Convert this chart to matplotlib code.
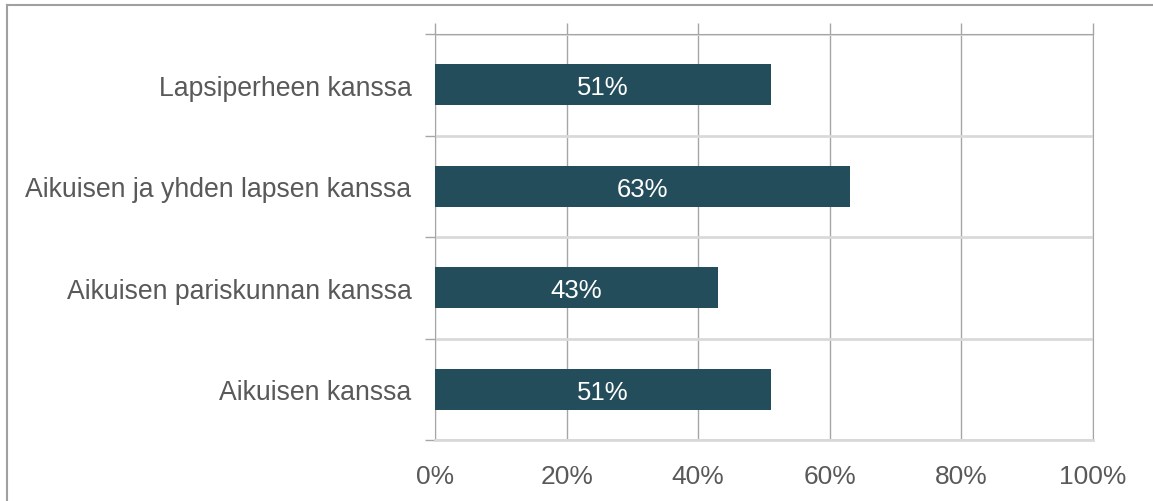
import matplotlib.pyplot as plt
from matplotlib.lines import Line2D
import numpy as np

plt.rcParams['font.family'] = ['Liberation Sans', 'DejaVu Sans']

# data
categories = ['Lapsiperheen kanssa', 'Aikuisen ja yhden lapsen kanssa',
              'Aikuisen pariskunnan kanssa', 'Aikuisen kanssa']
values = [51, 63, 43, 51]
xticks = [0, 20, 40, 60, 80, 100]

bar_col = '#244d5b'
txt_col = '#595959'
grid_col = '#a6a6a6'
sep_col = '#d9d9d9'

fig = plt.figure(figsize=(11.53, 5.02), dpi=100)
ax = fig.add_axes([435/1153, 1-441/502, (1093-435)/1153, (441-35)/502])

y = np.arange(len(categories))
bars = ax.barh(y, values, height=0.4, color=bar_col, zorder=3)
for b, v in zip(bars, values):
    ax.text(v/2, b.get_y() + b.get_height()/2, f'{v}%', ha='center', va='center_baseline',
            color='white', fontsize=18.5, zorder=4)

ax.set_xlim(0, 100)
ax.set_ylim(len(categories) - 0.5, -0.5)
ax.set_xticks(xticks)
ax.set_xticklabels([f'{t}%' for t in xticks])
ax.set_yticks(y)
ax.set_yticklabels(categories)
ax.set_yticks(np.arange(len(categories) + 1) - 0.5, minor=True)

ax.tick_params(axis='x', length=0, pad=9, labelsize=19, labelcolor=txt_col)
ax.tick_params(axis='y', which='major', length=0, pad=17, labelsize=19.2, labelcolor=txt_col)
ax.tick_params(axis='y', which='minor', length=7, color=grid_col, width=1)
ax.tick_params(axis='x', top=True, bottom=False, length=8, color=grid_col, width=1, labeltop=False)

ax.grid(axis='x', color=grid_col, linewidth=1, zorder=0)
ax.grid(axis='y', which='minor', color=sep_col, linewidth=2, zorder=0)

ax.spines['right'].set_color(grid_col)
ax.spines['left'].set_color(grid_col)
ax.spines['top'].set_color(grid_col)
ax.spines['bottom'].set_color(sep_col)
ax.spines['bottom'].set_linewidth(2)

# outer frame (top and left only visible)
fig.add_artist(Line2D([7/1153, 1], [1-6/502, 1-6/502], color='#a0a0a0', lw=1.5))
fig.add_artist(Line2D([7/1153, 7/1153], [0, 1-6/502], color='#a0a0a0', lw=1.5))

fig.savefig('out.png', dpi=100)
